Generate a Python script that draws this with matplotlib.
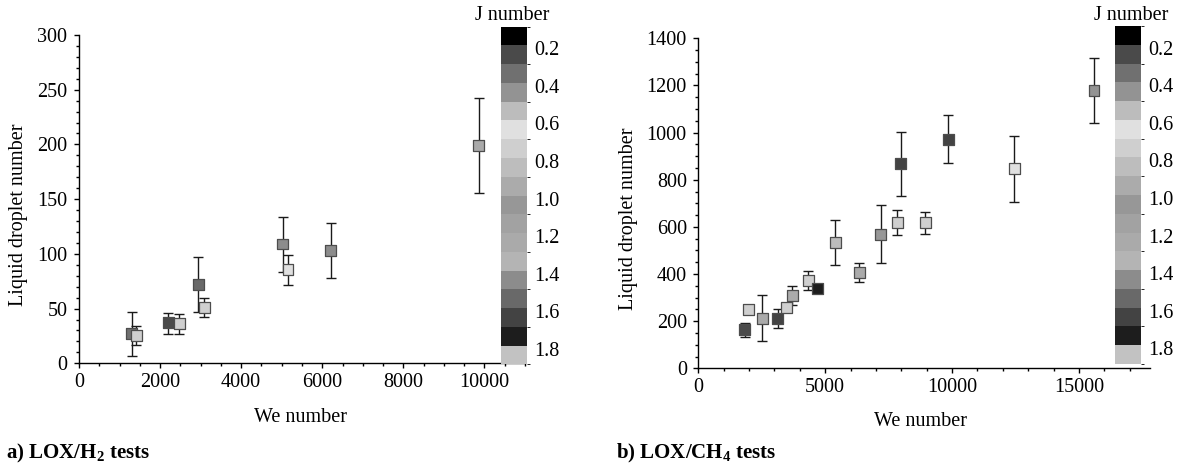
"""Liquid droplet number vs We number, coloured by J number (LOX/H2 and LOX/CH4)."""

import matplotlib
matplotlib.use('Agg')
import matplotlib.pyplot as plt
import numpy as np
from matplotlib.cm import ScalarMappable
from matplotlib.colors import BoundaryNorm, ListedColormap
from matplotlib.ticker import MultipleLocator
import matplotlib.transforms as mtransforms

plt.rcParams['font.family'] = ['Liberation Serif', 'DejaVu Serif']
plt.rcParams['mathtext.fontset'] = 'custom'
plt.rcParams['mathtext.rm'] = 'Liberation Serif'
plt.rcParams['mathtext.bf'] = 'Liberation Serif:bold'

# J number scale: 18 gray bands between 0.1 and 1.9 (top to bottom)
j_bounds = [0.1, 0.2, 0.3, 0.4, 0.5, 0.6, 0.7, 0.8, 0.9, 1.0,
            1.1, 1.2, 1.3, 1.4, 1.5, 1.6, 1.7, 1.8, 1.9]
j_grays = ['#000000', '#4a4a4a', '#707070', '#939393', '#bcbcbc', '#e0e0e0',
           '#cfcfcf', '#bdbdbd', '#ababab', '#979797', '#a2a2a2', '#aaaaaa',
           '#b4b4b4', '#8c8c8c', '#696969', '#434343', '#1d1d1d', '#c2c2c2']
j_ticks = [0.2, 0.4, 0.6, 0.8, 1.0, 1.2, 1.4, 1.6, 1.8]
j_ticklabels = ['0.2', '0.4', '0.6', '0.8', '1.0', '1.2', '1.4', '1.6', '1.8']

# a) LOX/H2 tests
h2_we = [1295, 1418, 2203, 2476, 2943, 3093, 5022, 5154, 6203, 9859]
h2_drops = [27, 25, 37, 36, 72, 51, 109, 86, 103, 199]
h2_low = [7, 17, 27, 27, 47, 42, 83, 72, 78, 156]
h2_high = [47, 34, 46, 45, 97, 60, 134, 99, 128, 242]
h2_j = [0.35, 0.75, 0.25, 0.75, 1.55, 0.75, 1.45, 0.65, 1.45, 1.25]

# b) LOX/CH4 tests
ch4_we = [1821, 1984, 2517, 3124, 3464, 3701, 4338, 4679, 5404, 6337,
          7196, 7833, 7981, 8944, 9847, 12453, 15592]
ch4_drops = [165, 250, 212, 212, 257, 308, 373, 340, 535, 408,
             567, 620, 868, 617, 971, 847, 1178]
ch4_low = [134, 232, 116, 171, 240, 267, 332, 340, 439, 366,
           445, 566, 730, 570, 869, 707, 1040]
ch4_high = [193, 267, 309, 253, 278, 349, 412, 340, 631, 447,
            692, 673, 1003, 663, 1073, 986, 1318]
ch4_j = [0.25, 0.75, 1.25, 1.65, 0.75, 0.95, 0.75, 1.75, 0.85, 1.25,
         1.05, 0.75, 1.65, 0.75, 1.65, 0.65, 0.45]

W, H = 1181, 467
cmap = ListedColormap(j_grays)
norm = BoundaryNorm(j_bounds, cmap.N)
FS = 14.5


def px_rect(x0, y0, x1, y1):
    """Pixel box (top-left origin) to figure fractions."""
    return [x0 / W, 1 - y1 / H, (x1 - x0) / W, (y1 - y0) / H]


def draw_panel(fig, box, cbar_box, we, drops, low, high, jnum,
               xmax, xmajor, xminor, ymax, ymajor, yminor):
    ax = fig.add_axes(px_rect(*box))
    drops = np.asarray(drops, dtype=float)
    yerr = [drops - np.asarray(low), np.asarray(high) - drops]
    ax.errorbar(we, drops, yerr=yerr, fmt='none', ecolor='#1a1a1a',
                elinewidth=1.0, capsize=3.5, capthick=1.0, zorder=2)
    ax.scatter(we, drops, c=jnum, cmap=cmap, norm=norm, marker='s', s=62,
               edgecolors='#4d4d4d', linewidths=0.9, zorder=3)

    ax.set_xlim(0, xmax)
    ax.set_ylim(0, ymax)
    ax.xaxis.set_major_locator(MultipleLocator(xmajor))
    ax.xaxis.set_minor_locator(MultipleLocator(xminor))
    ax.yaxis.set_major_locator(MultipleLocator(ymajor))
    ax.yaxis.set_minor_locator(MultipleLocator(yminor))
    for side in ['top', 'right']:
        ax.spines[side].set_visible(False)
    for side in ['left', 'bottom']:
        ax.spines[side].set_linewidth(1.0)
    ax.tick_params(which='major', length=3.8, width=1.0, labelsize=FS, direction='out')
    ax.tick_params(which='minor', length=2.4, width=1.0, direction='out')
    ax.tick_params(axis='x', pad=3)
    ax.tick_params(axis='y', pad=4.5)
    ax.patch.set_visible(False)

    cax = fig.add_axes(px_rect(*cbar_box))
    cbar = fig.colorbar(ScalarMappable(norm=norm, cmap=cmap), cax=cax,
                        ticks=j_ticks, spacing='proportional')
    cbar.outline.set_visible(False)
    cax.invert_yaxis()
    cax.set_yticklabels(j_ticklabels)
    cax.tick_params(length=0, labelsize=FS, pad=5)
    offset = mtransforms.ScaledTranslation(0, -3 / 100, fig.dpi_scale_trans)
    for lab in cax.get_yticklabels():
        lab.set_transform(lab.get_transform() + offset)
    return ax, cax


fig = plt.figure(figsize=(W / 100, H / 100), dpi=100)

draw_panel(fig, (79, 35, 525, 363.3), (501, 26.7, 527, 364.3),
           h2_we, h2_drops, h2_low, h2_high, h2_j,
           11000, 2000, 500, 300, 50, 10)
draw_panel(fig, (698.3, 38.3, 1150, 368.3), (1115, 26, 1141, 364),
           ch4_we, ch4_drops, ch4_low, ch4_high, ch4_j,
           17800, 5000, 1000, 1400, 200, 50)

fig.text(512 / W, 1 - 15 / H, 'J number', ha='center', va='center', fontsize=FS)
fig.text(1131 / W, 1 - 16 / H, 'J number', ha='center', va='center', fontsize=FS)

fig.text(19 / W, 1 - 215 / H, 'Liquid droplet number', rotation=90,
         ha='center', va='center', fontsize=FS)
fig.text(629 / W, 1 - 219 / H, 'Liquid droplet number', rotation=90,
         ha='center', va='center', fontsize=FS)
fig.text(301 / W, 1 - 418 / H, 'We number', ha='center', va='center', fontsize=FS)
fig.text(921 / W, 1 - 422 / H, 'We number', ha='center', va='center', fontsize=FS)

fig.text(6 / W, 1 - 453 / H, r'a) LOX/H$_\mathbf{2}$ tests', ha='left', va='center',
         fontsize=15, fontweight='bold')
fig.text(616 / W, 1 - 453 / H, r'b) LOX/CH$_\mathbf{4}$ tests', ha='left', va='center',
         fontsize=15, fontweight='bold')

fig.savefig('out.png', dpi=100)
